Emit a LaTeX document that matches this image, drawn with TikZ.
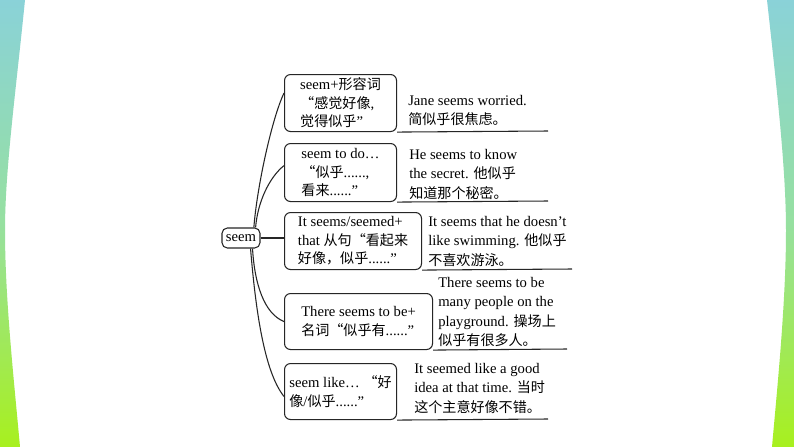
\documentclass[tikz,border=0pt]{standalone}
\usepackage{fontspec}
\setmainfont{Liberation Serif}
\newfontfamily\cjk[Scale=0.96]{Noto Sans CJK SC}
\newcommand{\zh}[1]{{\cjk #1}}
\definecolor{stripteal}{RGB}{138,210,216}
\definecolor{stripmint}{RGB}{150,224,160}
\definecolor{striplime}{RGB}{168,240,30}

\begin{document}
\begin{tikzpicture}[x=0.75pt,y=0.75pt,yscale=-1,xscale=1,
  every node/.style={font=\fontsize{11}{14.6}\selectfont},
  usagebox/.style={draw=black!85, line width=0.8pt, rounded corners=4.5pt, align=left,
    anchor=north west, inner sep=0pt, font=\fontsize{11}{13.9}\selectfont},
  sample/.style={align=left, anchor=north west, inner sep=0pt},
  branch/.style={draw=black!85, line width=0.8pt}]
\useasboundingbox (0,0) rectangle (794,447);
\fill[white] (0,0) rectangle (794,447);

%Shape: side strips
\shade[top color=stripteal, bottom color=striplime, middle color=stripmint]
  (0,0) -- (25,0) .. controls (16,90) and (5,170) .. (5,230) .. controls (5,300) and (14,380) .. (20,447) -- (0,447) -- cycle;
\shade[top color=stripteal, bottom color=striplime, middle color=stripmint]
  (794,0) -- (767,0) .. controls (777,90) and (786,170) .. (786,230) .. controls (786,300) and (778,380) .. (772,447) -- (794,447) -- cycle;

% Centre node
\node[draw=black!85, line width=0.8pt, rounded corners=4pt, minimum width=28.5pt, minimum height=15pt, inner sep=0pt] (seem) at (241,238) {seem};

% Usage boxes
\node[usagebox, minimum width=84pt, minimum height=42.75pt] (b1) at (284,74) {seem+\zh{形容词}\\\zh{“感觉好像},\\\zh{觉得似乎}”};
\node[usagebox, minimum width=84pt, minimum height=43.5pt] (b2) at (284,143) {seem to do…\\\zh{“似乎}......,\\\zh{看来}......”};
\node[usagebox, minimum width=102.75pt, minimum height=42.75pt] (b3) at (284,212) {It seems/seemed+\\that \zh{从句“看起来}\\\zh{好像，似乎}......”};
\node[usagebox, minimum width=111pt, minimum height=42pt] (b4) at (284,293) {There seems to be+\\\zh{名词“似乎有}......”};
\node[usagebox, minimum width=84pt, minimum height=42pt] (b5) at (284,363) {seem like… \zh{“好}\\\zh{像}/\zh{似乎}......”};

% Example sentences
\node[sample] (s1) at (408,95) {Jane seems worried.\\\zh{简似乎很焦虑。}};
\node[sample] (s2) at (409,149) {He seems to know\\the secret. \zh{他似乎}\\\zh{知道那个秘密。}};
\node[sample] (s3) at (428,216) {It seems that he doesn’t\\like swimming. \zh{他似乎}\\\zh{不喜欢游泳。}};
\node[sample] (s4) at (438,277) {There seems to be\\many people on the\\playground. \zh{操场上}\\\zh{似乎有很多人。}};
\node[sample] (s5) at (414,363) {It seemed like a good\\idea at that time. \zh{当时}\\\zh{这个主意好像不错。}};

% Underline ends
\coordinate (u1) at (548,131);
\coordinate (u2) at (548,201);
\coordinate (u3) at (572,269);
\coordinate (u4) at (567,349);
\coordinate (u5) at (548,419);

\draw[branch] (b1.south east) -- (u1);
\draw[branch] (b2.south east) -- (u2);
\draw[branch] (b3.south east) -- (u3);
\draw[branch] (b4.south east) -- (u4);
\draw[branch] (b5.south east) -- (u5);

% Branches
\draw[branch] ([xshift=-5pt]seem.north east) .. controls +(3,-40) and +(-12,25) .. (b1.170);
\draw[branch] ([xshift=-3.7pt]seem.north east) .. controls +(2,-25) and +(-15,12) .. (b2.173);
\draw[branch] (seem.east) -- (seem.east -| b3.west);
\draw[branch] ([xshift=-6pt]seem.south east) .. controls +(2,35) and +(-20,-8) .. (b4.west);
\draw[branch] ([xshift=-7.5pt]seem.south east) .. controls +(5,60) and +(-20,-25) .. (b5.185);
\end{tikzpicture}
\end{document}
